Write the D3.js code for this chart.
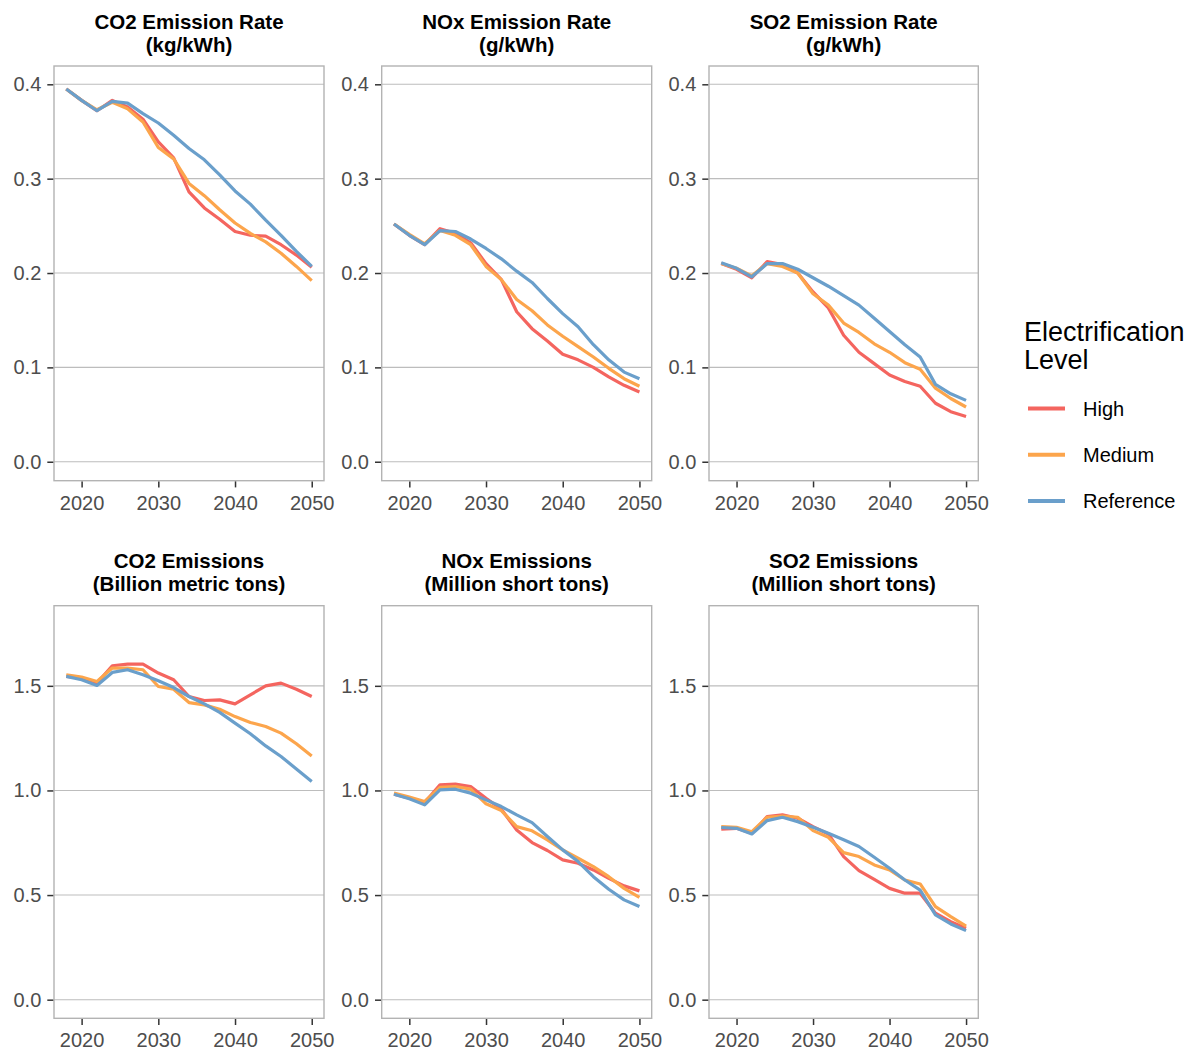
<!DOCTYPE html>
<html>
<head>
<meta charset="utf-8">
<script src="https://cdn.jsdelivr.net/npm/d3@7"></script>
<style>
  html, body { margin: 0; padding: 0; background: #fff; }
  svg { display: block; font-family: "Liberation Sans", Arial, sans-serif; }
</style>
</head>
<body>
<svg id="chart" width="1189" height="1051"></svg>
<script>
// ---------------- DATA ----------------
const years = [2018, 2020, 2022, 2024, 2026, 2028, 2030, 2032, 2034, 2036, 2038, 2040, 2042, 2044, 2046, 2048, 2050];
const levels = ["High", "Medium", "Reference"];
const levelColors = ["#F4655F", "#FCA54C", "#6A9FCB"];

const xTicks = [2020, 2030, 2040, 2050];
const rateTicks = [0.0, 0.1, 0.2, 0.3, 0.4];
const emisTicks = [0.0, 0.5, 1.0, 1.5];

// CO2 Emission Rate (kg/kWh)
const co2RateHigh      = [0.395, 0.383, 0.372, 0.383, 0.376, 0.363, 0.339, 0.322, 0.286, 0.269, 0.257, 0.244, 0.240, 0.239, 0.230, 0.219, 0.206];
const co2RateMedium    = [0.395, 0.383, 0.373, 0.381, 0.374, 0.360, 0.333, 0.321, 0.295, 0.282, 0.267, 0.253, 0.242, 0.233, 0.221, 0.207, 0.192];
const co2RateReference = [0.395, 0.383, 0.372, 0.382, 0.380, 0.369, 0.359, 0.346, 0.332, 0.320, 0.304, 0.287, 0.273, 0.256, 0.240, 0.223, 0.207];

// NOx Emission Rate (g/kWh)
const noxRateHigh      = [0.252, 0.240, 0.230, 0.247, 0.242, 0.232, 0.210, 0.193, 0.159, 0.141, 0.128, 0.114, 0.108, 0.100, 0.090, 0.081, 0.074];
const noxRateMedium    = [0.252, 0.241, 0.231, 0.245, 0.240, 0.230, 0.207, 0.193, 0.172, 0.160, 0.145, 0.133, 0.122, 0.111, 0.099, 0.088, 0.080];
const noxRateReference = [0.252, 0.240, 0.230, 0.245, 0.244, 0.236, 0.226, 0.215, 0.202, 0.190, 0.173, 0.157, 0.143, 0.124, 0.108, 0.095, 0.088];

// SO2 Emission Rate (g/kWh)
const so2RateHigh      = [0.210, 0.204, 0.195, 0.212, 0.209, 0.200, 0.180, 0.163, 0.134, 0.116, 0.104, 0.092, 0.085, 0.080, 0.062, 0.053, 0.048];
const so2RateMedium    = [0.210, 0.205, 0.197, 0.210, 0.207, 0.200, 0.178, 0.166, 0.147, 0.137, 0.125, 0.116, 0.105, 0.098, 0.078, 0.067, 0.058];
const so2RateReference = [0.211, 0.205, 0.196, 0.210, 0.210, 0.204, 0.195, 0.186, 0.176, 0.166, 0.152, 0.138, 0.124, 0.111, 0.082, 0.072, 0.065];

// CO2 Emissions (Billion metric tons)
const co2EmisHigh      = [1.545, 1.537, 1.513, 1.596, 1.604, 1.604, 1.561, 1.529, 1.449, 1.430, 1.433, 1.414, 1.457, 1.500, 1.513, 1.484, 1.449];
const co2EmisMedium    = [1.553, 1.542, 1.521, 1.585, 1.585, 1.577, 1.497, 1.484, 1.420, 1.409, 1.388, 1.353, 1.325, 1.306, 1.274, 1.223, 1.165];
const co2EmisReference = [1.545, 1.529, 1.502, 1.564, 1.577, 1.553, 1.524, 1.492, 1.449, 1.414, 1.373, 1.322, 1.271, 1.213, 1.162, 1.103, 1.043];

// NOx Emissions (Million short tons)
const noxEmisHigh      = [0.982, 0.963, 0.942, 1.027, 1.030, 1.019, 0.963, 0.910, 0.811, 0.751, 0.713, 0.668, 0.652, 0.620, 0.580, 0.544, 0.520];
const noxEmisMedium    = [0.987, 0.968, 0.947, 1.015, 1.019, 1.006, 0.936, 0.904, 0.827, 0.807, 0.764, 0.716, 0.676, 0.636, 0.588, 0.532, 0.489];
const noxEmisReference = [0.982, 0.960, 0.931, 1.003, 1.006, 0.987, 0.955, 0.923, 0.883, 0.846, 0.780, 0.716, 0.660, 0.588, 0.528, 0.477, 0.445];

// SO2 Emissions (Million short tons)
const so2EmisHigh      = [0.815, 0.819, 0.795, 0.875, 0.883, 0.867, 0.827, 0.792, 0.684, 0.617, 0.575, 0.532, 0.509, 0.509, 0.413, 0.373, 0.341];
const so2EmisMedium    = [0.827, 0.824, 0.803, 0.872, 0.878, 0.872, 0.808, 0.776, 0.703, 0.684, 0.644, 0.620, 0.572, 0.553, 0.445, 0.397, 0.352];
const so2EmisReference = [0.823, 0.819, 0.792, 0.856, 0.872, 0.851, 0.824, 0.795, 0.764, 0.732, 0.681, 0.628, 0.572, 0.524, 0.405, 0.362, 0.330];

const panelTitles = [
  ["CO2 Emission Rate", "(kg/kWh)"],
  ["NOx Emission Rate", "(g/kWh)"],
  ["SO2 Emission Rate", "(g/kWh)"],
  ["CO2 Emissions", "(Billion metric tons)"],
  ["NOx Emissions", "(Million short tons)"],
  ["SO2 Emissions", "(Million short tons)"]
];
const panelSeries = [
  [co2RateHigh, co2RateMedium, co2RateReference],
  [noxRateHigh, noxRateMedium, noxRateReference],
  [so2RateHigh, so2RateMedium, so2RateReference],
  [co2EmisHigh, co2EmisMedium, co2EmisReference],
  [noxEmisHigh, noxEmisMedium, noxEmisReference],
  [so2EmisHigh, so2EmisMedium, so2EmisReference]
];

// ---------------- LAYOUT ----------------
const svg = d3.select("#chart");
const colX = [[54, 324], [381.7, 651.7], [709, 978.3]];
const rowY = [[66, 480.7], [605.7, 1018.3]];
const yDomains = [[-0.0201, 0.4194], [-0.089, 1.883]];
const yTicksByRow = [rateTicks, emisTicks];
const xDomain = [2016.4, 2051.6];

const gridColor = "#BDBDBD";
const borderColor = "#B3B3B3";
const tickColor = "#333333";
const tickTextColor = "#4D4D4D";

panelSeries.forEach((series, i) => {
  const row = Math.floor(i / 3), col = i % 3;
  const [x0, x1] = colX[col];
  const [y0, y1] = rowY[row];
  const x = d3.scaleLinear().domain(xDomain).range([x0, x1]);
  const y = d3.scaleLinear().domain(yDomains[row]).range([y1, y0]);
  const g = svg.append("g");

  // gridlines
  g.selectAll("line.grid").data(yTicksByRow[row]).join("line")
    .attr("x1", x0).attr("x2", x1)
    .attr("y1", d => y(d)).attr("y2", d => y(d))
    .attr("stroke", gridColor).attr("stroke-width", 1.1);

  // lines
  const line = d3.line().x((d, k) => x(years[k])).y(d => y(d));
  series.forEach((vals, s) => {
    g.append("path").datum(vals)
      .attr("d", line)
      .attr("fill", "none")
      .attr("stroke", levelColors[s])
      .attr("stroke-width", 3.2)
      .attr("stroke-linejoin", "round");
  });

  // border
  g.append("rect").attr("x", x0).attr("y", y0)
    .attr("width", x1 - x0).attr("height", y1 - y0)
    .attr("fill", "none").attr("stroke", borderColor).attr("stroke-width", 1.4);

  // y axis
  const yAxis = d3.axisLeft(y).tickValues(yTicksByRow[row]).tickFormat(d3.format(".1f")).tickSize(6).tickPadding(6);
  const ya = g.append("g").attr("transform", `translate(${x0 - 0.7},0)`).call(yAxis);
  ya.select(".domain").remove();
  ya.selectAll(".tick line").attr("stroke", tickColor).attr("stroke-width", 1.5);
  ya.selectAll(".tick text").attr("fill", tickTextColor).attr("font-size", 20)
    .attr("font-family", "Liberation Sans, Arial, sans-serif");

  // x axis
  const xAxis = d3.axisBottom(x).tickValues(xTicks).tickFormat(d3.format("d")).tickSize(6).tickPadding(8);
  const xa = g.append("g").attr("transform", `translate(0,${y1 + 0.7})`).call(xAxis);
  xa.select(".domain").remove();
  xa.selectAll(".tick line").attr("stroke", tickColor).attr("stroke-width", 1.5);
  xa.selectAll(".tick text").attr("fill", tickTextColor).attr("font-size", 20)
    .attr("font-family", "Liberation Sans, Arial, sans-serif");

  // titles
  const cx = (x0 + x1) / 2;
  g.append("text").attr("x", cx).attr("y", y0 - 37 - row).attr("text-anchor", "middle")
    .attr("font-size", 20.5).attr("font-weight", "bold").attr("fill", "#000")
    .text(panelTitles[i][0]);
  g.append("text").attr("x", cx).attr("y", y0 - 14 - row).attr("text-anchor", "middle")
    .attr("font-size", 20.5).attr("font-weight", "bold").attr("fill", "#000")
    .text(panelTitles[i][1]);
});

// ---------------- LEGEND ----------------
const lg = svg.append("g");
lg.append("text").attr("x", 1024).attr("y", 341).attr("font-size", 27).attr("fill", "#000").text("Electrification");
lg.append("text").attr("x", 1024).attr("y", 369).attr("font-size", 27).attr("fill", "#000").text("Level");
const legendY = d3.scalePoint().domain(levels).range([408.5, 501]);
levels.forEach((lv, s) => {
  lg.append("line").attr("x1", 1028).attr("x2", 1065)
    .attr("y1", legendY(lv)).attr("y2", legendY(lv))
    .attr("stroke", levelColors[s]).attr("stroke-width", 4);
  lg.append("text").attr("x", 1083).attr("y", legendY(lv) + 7)
    .attr("font-size", 20).attr("fill", "#000").text(lv);
});
</script>
</body>
</html>
